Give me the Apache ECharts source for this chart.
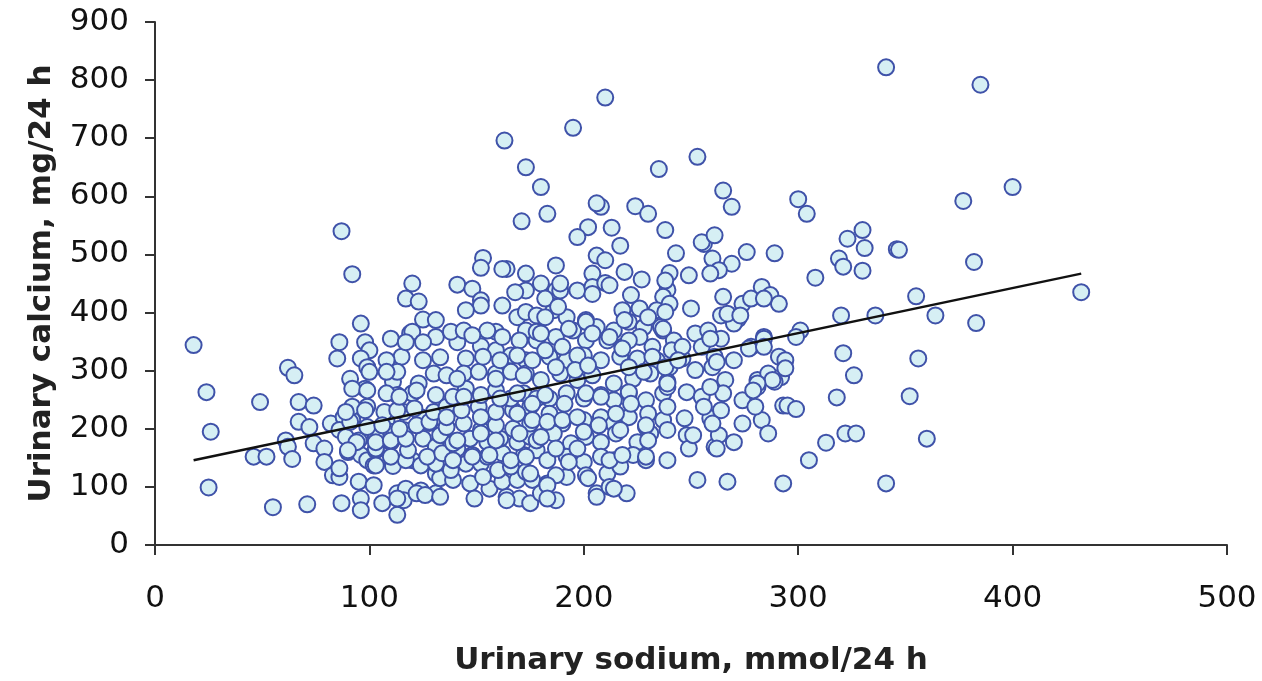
<!DOCTYPE html>
<html>
<head>
<meta charset="utf-8">
<script src="https://cdn.jsdelivr.net/npm/echarts@6/dist/echarts.min.js"></script>
<style>
  html, body { margin: 0; padding: 0; background: #fff; }
  #main { width: 1262px; height: 681px; }
</style>
</head>
<body>
<div id="main"></div>
<script>
// urinary sodium (mmol/24 h) and urinary calcium (mg/24 h)
const sodium = [
  18,24,26,25,49,46,52,55,62,65,67,74,67,72,61,62,64,71,74,79,79,82,83,86,86,87,86,85,91,96,98,100,96,99,98,99,88,92,86,89,95,90,96,99,103,95,102,96,96,106,113,113,117,116,110,115,108,111,113,113,108,110,110,111,103,92,98,119,120,117,120,87,92,
  123,125,131,120,131,125,125,130,123,120,131,107,116,124,128,94,116,125,131,90,102,111,117,127,124,131,131,
  210,195,163,173,180,235,171,183,208,206,224,230,238,202,197,213,217,243,206,210,153,152,164,162,187,173,219,204,227,240,141,148,152,173,183,197,204,210,222,239,168,187,
  152,145,162,169,173,117,141,145,138,152,159,159,166,173,155,144,173,178,100,108,136,144,151,159,166,173,
  113,122,126,133,133,139,147,149,156,164,170,162,169,175,176,
  103,124,131,138,145,152,160,166,173,
  103,110,118,127,134,141,148,155,162,172,178,
  103,110,117,133,139,147,155,161,169,175,
  91,99,106,114,122,128,136,144,152,159,167,175,
  89,113,121,130,136,143,151,159,167,175,
  92,99,108,114,122,139,145,152,159,166,172,178,
  189,204,212,237,218,226,234,240,
  178,186,192,201,206,214,221,228,237,242,
  148,162,170,178,187,195,201,211,218,226,232,
  133,153,161,169,176,184,192,200,208,217,225,234,240,
  141,159,172,180,189,197,204,214,223,231,239,
  144,161,169,176,184,192,200,208,214,221,229,237,
  136,152,169,176,184,190,200,208,214,221,229,237,
  141,152,159,170,178,186,194,201,208,215,225,231,239,
  139,148,156,166,173,183,192,200,208,214,223,229,239,
  153,175,183,192,201,211,217,206,220,212,
  164,187,180,
  289,276,256,260,269,263,249,259,180,189,238,
  182,188,250,265,274,283,287,291,264,272,270,278,
  182,193,201,219,230,236,
  180,204,212,221,252,258,264,278,284,291,
  182,190,197,218,232,241,246,255,261,270,
  187,196,202,221,228,238,252,260,266,281,286,292,
  182,191,201,208,215,221,222,230,239,239,248,255,265,274,281,289,
  183,190,197,207,217,229,247,259,264,274,283,286,293,
  180,187,197,200,229,248,249,261,263,270,
  193,212,218,187,183,202,214,206,183,
  253,267,293,
  341,253,265,269,300,304,255,261,284,308,323,330,331,319,321,330,346,355,320,336,364,
  301,299,284,277,284,321,356,326,318,352,294,294,288,281,279,280,295,299,322,327,313,305,360,341,238,262,246,244,259,256,260,262,251,239,230,237,259,267,273,
  385,400,377,347,382,383,432
];
const calcium = [
  344,263,195,99,246,152,152,65,305,292,246,240,212,203,180,169,148,70,175,166,143,209,120,117,132,72,349,321,286,381,349,335,321,306,269,238,220,215,198,186,180,160,155,146,163,109,103,80,60,72,52,89,97,77,355,324,318,281,298,258,215,195,177,140,186,238,232,364,450,424,146,540,466,
  419,388,387,367,358,349,318,295,278,261,258,229,229,220,210,177,198,183,169,163,137,136,146,149,94,123,89,
  770,718,696,650,616,647,557,570,582,588,583,570,542,547,530,546,515,502,498,490,494,477,475,475,481,467,470,467,457,468,448,441,421,438,427,438,444,451,430,439,435,438,
  412,404,412,392,401,349,349,321,367,342,367,335,326,318,369,369,369,352,298,298,292,295,298,295,298,295,
  80,89,86,83,115,112,106,80,97,83,80,109,112,72,112,
  137,137,140,129,140,140,129,135,126,
  166,152,163,152,158,166,155,152,158,155,163,
  177,180,183,189,175,183,177,183,177,186,
  212,203,206,200,206,212,203,209,198,206,200,209,
  229,232,235,229,238,232,238,229,232,238,
  269,266,261,255,266,255,269,258,266,252,261,252,
  438,432,447,427,404,407,404,415,
  395,404,392,387,375,369,384,375,369,352,
  361,358,352,367,358,369,352,352,341,358,341,
  323,324,318,326,318,324,318,326,318,324,321,318,306,
  286,286,292,284,295,284,292,278,286,295,281,
  255,252,261,243,252,261,252,258,249,261,249,261,
  220,220,226,215,226,209,215,220,209,220,203,215,
  180,192,180,192,180,192,175,186,177,192,177,192,198,
  146,152,155,146,152,146,152,143,152,146,155,146,146,
  117,123,106,117,120,123,135,89,89,100,
  77,77,89,
  502,504,518,493,484,473,464,467,450,450,455,
  424,410,407,427,415,444,430,415,395,389,381,424,
  392,372,384,387,392,375,
  364,364,358,352,364,369,355,341,358,324,
  335,341,326,338,324,335,321,341,324,318,
  306,301,309,306,298,306,301,306,284,284,295,289,
  258,243,261,255,226,263,243,226,238,272,263,255,261,249,272,281,
  212,215,220,206,198,206,218,218,232,209,215,192,240,
  186,166,166,195,152,189,166,169,189,177,
  143,146,155,120,103,115,97,83,80,
  112,109,106,
  822,668,610,582,595,570,521,533,424,460,527,542,511,493,479,472,509,428,395,395,395,
  369,358,355,338,341,330,321,292,254,256,318,304,284,278,266,238,240,234,192,192,176,146,183,106,401,315,341,318,272,238,209,166,189,278,180,372,355,398,395,
  792,616,592,508,487,382,435
];
// regression line end points
const trendX = [18, 432];
const trendY = [146, 467];
const xTicks = [0, 100, 200, 300, 400, 500];
const yTicks = [0, 100, 200, 300, 400, 500, 600, 700, 800, 900];

const points = sodium.map((x, i) => [x, calcium[i]]);
const trend = trendX.map((x, i) => [x, trendY[i]]);

const axisCol = '#333';
const labelFont = { fontFamily: 'DejaVu Sans', fontSize: 31, color: '#111' };
const nameFont = { fontFamily: 'DejaVu Sans', fontWeight: 'bold', fontSize: 31, color: '#222' };

const chart = echarts.init(document.getElementById('main'));
chart.setOption({
  animation: false,
  backgroundColor: '#fff',
  grid: { left: 155, right: 35, top: 22, bottom: 136, outerBoundsMode: 'none' },
  xAxis: {
    type: 'value',
    min: xTicks[0], max: xTicks[xTicks.length - 1], interval: 100,
    name: 'Urinary sodium, mmol/24 h',
    nameLocation: 'middle', nameGap: 100,
    nameTextStyle: nameFont,
    axisLine: { show: true, onZero: false, lineStyle: { color: axisCol, width: 2 } },
    axisTick: { show: true, length: 10, lineStyle: { color: axisCol, width: 2 } },
    axisLabel: Object.assign({ margin: 38 }, labelFont),
    splitLine: { show: false }
  },
  yAxis: {
    type: 'value',
    min: yTicks[0], max: yTicks[yTicks.length - 1], interval: 100,
    name: 'Urinary calcium, mg/24 h',
    nameLocation: 'middle', nameGap: 98, nameRotate: 90,
    nameTextStyle: nameFont,
    axisLine: { show: true, onZero: false, lineStyle: { color: axisCol, width: 2 } },
    axisTick: { show: true, length: 10, lineStyle: { color: axisCol, width: 2 } },
    axisLabel: Object.assign({ margin: 26 }, labelFont),
    splitLine: { show: false }
  },
  series: [
    {
      type: 'scatter',
      data: points,
      symbol: 'circle',
      symbolSize: 16,
      itemStyle: { color: '#d6eff4', borderColor: '#3f52a9', borderWidth: 2, opacity: 1 },
      z: 2
    },
    {
      type: 'line',
      data: trend,
      symbol: 'none',
      lineStyle: { color: '#111', width: 2.5 },
      z: 5
    }
  ]
});
</script>
</body>
</html>
